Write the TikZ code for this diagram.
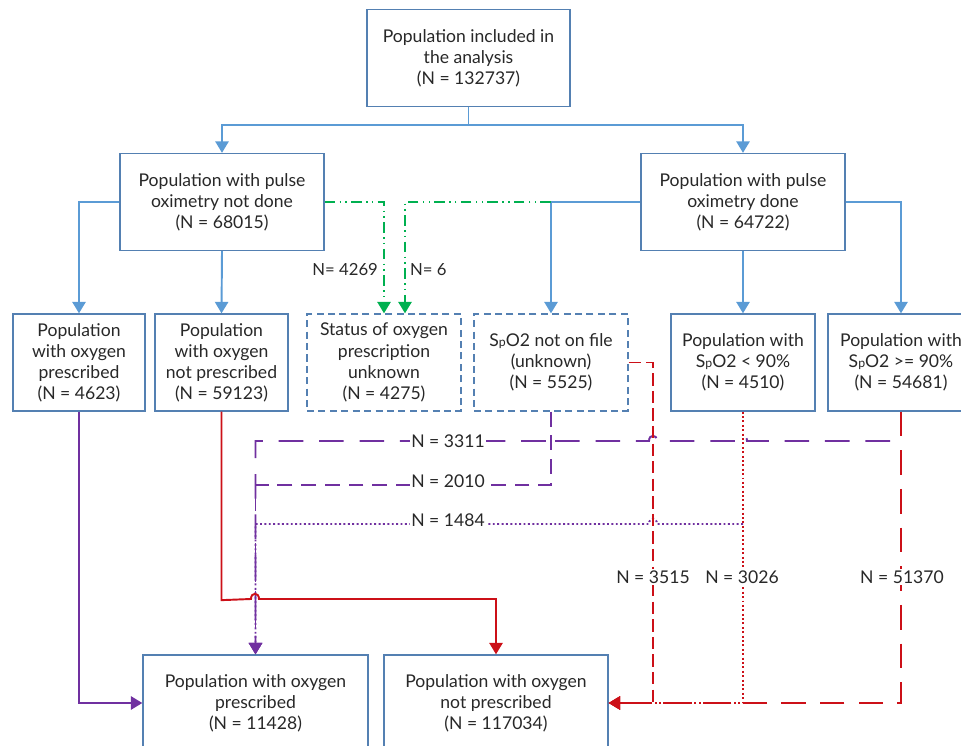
\documentclass[tikz,border=0pt]{standalone}
\usepackage{fontspec}
\setmainfont{Lato}
\usepackage{xcolor}
\usetikzlibrary{arrows.meta, positioning}
\definecolor{cbox}   {RGB}{84,128,178}
\definecolor{cblue}  {RGB}{91,155,213}
\definecolor{cgreen} {RGB}{0,176,80}
\definecolor{cpurple}{RGB}{112,48,160}
\definecolor{cred}   {RGB}{204,16,24}
\definecolor{ctext}  {RGB}{40,40,40}
\tikzset{
  bb/.style={rectangle, draw=cbox, line width=0.75pt, fill=white,
             font=\fontsize{10}{12}\selectfont, text=ctext, align=center,
             minimum height=1.94cm, inner sep=1pt},
  ub/.style={bb, dash pattern=on 4pt off 2.5pt},
  arr/.style={-{Triangle[length=6.5pt,width=7.5pt]}, line width=1.1pt, draw=#1},
  arr/.default=cblue,
  dots/.style={dash pattern=on 1.1pt off 1.4pt},
  lbl/.style={font=\fontsize{10}{12}\selectfont, text=ctext, fill=white, inner sep=1pt},
  glbl/.style={font=\fontsize{9.5}{12}\selectfont, text=ctext, inner sep=1pt},
}
\newcommand{\spo}{S{\scriptsize p}O2}

\begin{document}
\begin{tikzpicture}[x=0.02cm, y=-0.02cm]
  \useasboundingbox (0,0) rectangle (961,746);

  % -- Population ------------------------------------------------------------
  \node[bb, minimum width=4.06cm] at (468.5,58) (top)
      {Population included in\\the analysis\\(N = 132737)};

  % -- Pulse oximetry --------------------------------------------------------
  \node[bb, minimum width=4.08cm] at (222,202) (nodone)
      {Population with pulse\\oximetry not done\\(N = 68015)};
  \node[bb, minimum width=4.08cm] at (743,202) (done)
      {Population with pulse\\oximetry done\\(N = 64722)};

  % -- Sub-groups ------------------------------------------------------------
  \node[bb, minimum width=2.64cm] at (79,362.5) (oxyes)
      {Population\\with oxygen\\prescribed\\(N = 4623)};
  \node[bb, minimum width=2.66cm] at (221.5,362.5) (oxno)
      {Population\\with oxygen\\not prescribed\\(N = 59123)};
  \node[ub, minimum width=3.08cm] at (384,362.5) (oxunk)
      {Status of oxygen\\prescription\\unknown\\(N = 4275)};
  \node[ub, minimum width=3.08cm] at (551,362.5) (nofile)
      {\spo{} not on file\\(unknown)\\(N = 5525)};
  \node[bb, minimum width=2.88cm] at (743,362.5) (low)
      {Population with\\\spo{} < 90\%\\(N = 4510)};
  \node[bb, minimum width=2.92cm] at (901,362.5) (high)
      {Population with\\\spo{} >= 90\%\\(N = 54681)};

  % -- Outcome ---------------------------------------------------------------
  \node[bb, minimum width=4.5cm, minimum height=1.92cm] at (255.5,703) (presc)
      {Population with oxygen\\prescribed\\(N = 11428)};
  \node[bb, minimum width=4.48cm, minimum height=1.92cm] at (496,703) (notpresc)
      {Population with oxygen\\not prescribed\\(N = 117034)};

  % -- Blue arrows -----------------------------------------------------------
  \coordinate (tsplit) at (468.5,125);
  \draw[arr, -] (top.south) -- (tsplit);
  \draw[arr] (tsplit) -| (nodone.north);
  \draw[arr] (tsplit) -| (done.north);
  \draw[arr] (nodone.west) -| (oxyes.north);
  \draw[arr] (nodone.south) -- (oxno.north);
  \draw[arr] (done.west) -| (nofile.north);
  \draw[arr] (done.south) -- (low.north);
  \draw[arr] (done.east) -| (high.north);

  % -- Green arrows ----------------------------------------------------------
  \draw[arr=cgreen, dash pattern=on 6pt off 2.5pt on 0.8pt off 2.5pt on 0.8pt off 2.5pt]
      (nodone.east) -| (oxunk.north);
  \draw[arr=cgreen, dash pattern=on 6pt off 2.5pt on 0.8pt off 2.5pt on 0.8pt off 2.5pt]
      (done.west -| nofile.north) -| ([xshift=0.42cm]oxunk.north);
  \node[glbl, anchor=east] at (380,270) (g4269) {N= 4269};
  \node[glbl, anchor=west] at (408,270) (g6) {N= 6};

  % -- Purple arrows ---------------------------------------------------------
  \coordinate (p3311) at (890,441);
  \coordinate (p1484) at (743,524);
  \draw[arr=cpurple] (oxyes.south) |- (presc.west);
  \draw[arr=cpurple, dash pattern=on 14pt off 9pt]
      (p3311) -- (747,441) .. controls (747,434) and (739,434) .. (739,441)
      -- (657,441) .. controls (657,434) and (649,434) .. (649,441)
      -- (555,441) .. controls (555,434) and (547,434) .. (547,441)
      -| (presc.north);
  \draw[arr=cpurple, dash pattern=on 8.5pt off 5pt]
      (nofile.south) -- (551,485) -| (presc.north);
  \draw[arr=cpurple, dots]
      (p1484) -- (657,524) .. controls (657,517) and (649,517) .. (649,524)
      -| (presc.north);

  % -- Red arrows ------------------------------------------------------------
  \draw[arr=cred] (oxno.south) -- ++(0,188.5)
      -- (251,599) .. controls (251,592) and (259,592) .. (259,599)
      -| (notpresc.north);
  \draw[arr=cred, dash pattern=on 7pt off 3pt]
      (nofile.east) -- (653,362.5) |- (notpresc.east);
  \draw[arr=cred, dots] (low.south) |- (notpresc.east);
  \draw[arr=cred, dash pattern=on 14pt off 8pt] (high.south) |- (notpresc.east);

  % -- Labels ----------------------------------------------------------------
  \node[lbl] at (448,441) (l3311) {N = 3311};
  \node[lbl] at (448,481) (l2010) {N = 2010};
  \node[lbl] at (448,520) (l1484) {N = 1484};
  \node[lbl] at (653,577) (l3515) {N = 3515};
  \node[lbl] at (742,577) (l3026) {N = 3026};
  \node[lbl] at (902,577) (l51370) {N = 51370};
\end{tikzpicture}
\end{document}
